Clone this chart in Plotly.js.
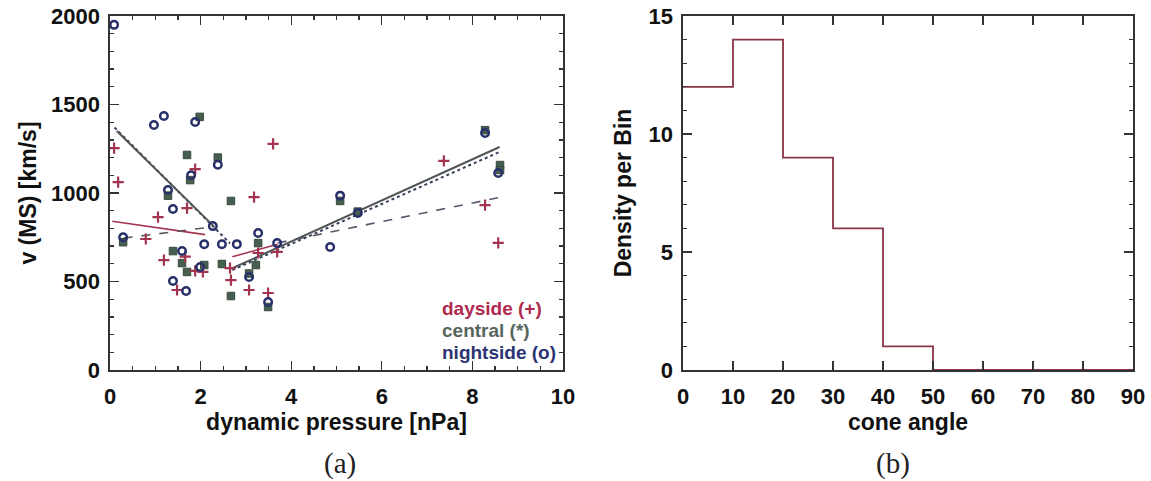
<!DOCTYPE html>
<html>
<head>
<meta charset="utf-8">
<script src="https://cdn.plot.ly/plotly-3.0.1.min.js"></script>
<style>html,body{margin:0;padding:0;background:#fff;}#chart{width:1151px;height:481px;}</style>
</head>
<body>
<div id="chart"></div>
<script>
// ---- panel (a) data: dynamic pressure [nPa] vs v(MS) [km/s]
const daysideP = [0.09,0.18,0.79,1.06,1.19,1.48,1.66,1.70,1.88,1.88,2.05,2.65,2.67,3.07,3.18,3.27,3.49,3.60,3.69,7.37,8.28,8.57];
const daysideV = [1254,1062,740,864,621,452,640,915,1135,560,554,576,508,452,977,661,435,1277,667,1181,932,718];
const centralP = [0.29,1.28,1.39,1.59,1.70,1.70,1.77,1.98,2.08,2.38,2.47,2.67,2.67,3.07,3.22,3.27,3.49,5.08,5.47,8.28,8.61,8.61];
const centralV = [722,985,672,604,554,1215,1073,1430,593,1200,599,955,418,545,593,717,356,955,895,1355,1158,1130];
const nightP = [0.09,0.97,1.19,1.88,1.28,1.39,1.79,2.38,2.27,0.29,2.08,2.47,2.80,1.59,1.99,1.39,1.68,3.27,3.69,4.86,3.07,3.49,5.08,5.47,8.28,8.57];
const nightV = [1950,1384,1435,1401,1017,910,1100,1160,813,750,710,710,711,672,582,503,446,774,717,695,525,384,985,887,1339,1113];

// fit lines (end points)
const fitNightLeftP = [0.10,2.65];   const fitNightLeftV = [1370,715];
const fitCentralLeftP = [0.15,2.30]; const fitCentralLeftV = [1350,810];
const fitDayLeftP = [0.05,2.10];     const fitDayLeftV = [840,765];
const fitDashLeftP = [0.30,2.30];    const fitDashLeftV = [745,810];
const fitDayRightP = [2.70,3.70];    const fitDayRightV = [640,710];
const fitDashRightP = [3.70,8.60];   const fitDashRightV = [718,975];
const fitCentralRightP = [2.70,8.60];const fitCentralRightV = [575,1260];
const fitNightRightP = [2.70,8.60];  const fitNightRightV = [565,1232];

const legendLabels = ['dayside (+)','central (*)','nightside (o)'];

// ---- panel (b) data: cone angle histogram
const binEdges = [0,10,20,30,40,50,60,70,80,90];
const binCounts = [12,14,9,6,1,0,0,0,0];

const RED = '#a3344f', GREEN = '#465f4f', NAVY = '#28306a', GRAY = '#505558';
const FONT = 'Liberation Sans, Arial, Helvetica, sans-serif';

function line(x, y, color, dash, width) {
  return {x: x, y: y, type: 'scatter', mode: 'lines', xaxis: 'x', yaxis: 'y', showlegend: false,
          hoverinfo: 'skip', line: {color: color, dash: dash, width: width}};
}

const traces = [
  line(fitNightLeftP, fitNightLeftV, '#3a3f5a', 'dot', 2),
  line(fitCentralLeftP, fitCentralLeftV, GRAY, 'solid', 2),
  line(fitDayLeftP, fitDayLeftV, RED, 'solid', 1.6),
  line(fitDashLeftP, fitDashLeftV, '#5a5660', 'dash', 1.6),
  line(fitDayRightP, fitDayRightV, RED, 'solid', 1.6),
  line(fitDashRightP, fitDashRightV, '#55576a', 'dash', 1.6),
  line(fitCentralRightP, fitCentralRightV, GRAY, 'solid', 2),
  line(fitNightRightP, fitNightRightV, '#3a3f5a', 'dot', 2),
  {x: centralP, y: centralV, type: 'scatter', mode: 'markers', name: 'central (*)', showlegend: false,
   marker: {symbol: 'square', size: 7.5, color: GREEN, line: {color: '#38493d', width: 1}}},
  {x: daysideP, y: daysideV, type: 'scatter', mode: 'markers', name: 'dayside (+)', showlegend: false,
   marker: {symbol: 'cross-thin', size: 8, color: RED, line: {color: RED, width: 2.2}}},
  {x: nightP, y: nightV, type: 'scatter', mode: 'markers', name: 'nightside (o)', showlegend: false,
   marker: {symbol: 'circle-open', size: 7.5, color: NAVY, line: {color: NAVY, width: 2.5}}},
  {x: binEdges, y: binCounts.concat([binCounts[binCounts.length - 1]]), type: 'scatter', mode: 'lines',
   xaxis: 'x2', yaxis: 'y2', showlegend: false, line: {shape: 'hv', color: '#8a3446', width: 1.8}}
];

const axisCommon = {
  showline: true, linecolor: '#333', linewidth: 1.6, mirror: 'allticks',
  ticks: 'inside', tickcolor: '#333', ticklen: 9, tickwidth: 1.3,
  showgrid: false, zeroline: false, fixedrange: true,
  tickfont: {family: FONT, size: 22, color: '#111', weight: 'bold'}
};
const titleFont = {family: FONT, size: 23, color: '#111', weight: 'bold'};

const layout = {
  width: 1151, height: 481, margin: {l: 0, r: 0, t: 0, b: 0},
  paper_bgcolor: '#fff', plot_bgcolor: '#fff', showlegend: false,
  xaxis: Object.assign({}, axisCommon, {domain: [110/1151, 563/1151], range: [0, 10], dtick: 2,
    minor: {dtick: 0.5, ticks: 'inside', ticklen: 4, tickcolor: '#333'},
    ticklabelstandoff: 6,
    title: {text: 'dynamic pressure [nPa]', font: titleFont, standoff: 4}}),
  yaxis: Object.assign({}, axisCommon, {domain: [111/481, 465/481], range: [0, 2000], dtick: 500,
    minor: {dtick: 100, ticks: 'inside', ticklen: 4, tickcolor: '#333'},
    ticklabelstandoff: 4,
    title: {text: 'v (MS) [km/s]', font: titleFont, standoff: 8}}),
  xaxis2: Object.assign({}, axisCommon, {anchor: 'y2', domain: [683/1151, 1133/1151], range: [0, 90], dtick: 10,
    ticklabelstandoff: 6,
    title: {text: 'cone angle', font: titleFont, standoff: 4}}),
  yaxis2: Object.assign({}, axisCommon, {anchor: 'x2', domain: [111/481, 465/481], range: [0, 15], dtick: 5,
    minor: {dtick: 1, ticks: 'inside', ticklen: 4, tickcolor: '#333'},
    ticklabelstandoff: 4,
    title: {text: 'Density per Bin', font: titleFont, standoff: 10}}),
  annotations: [
    {text: legendLabels[0], xref: 'paper', yref: 'paper', x: 440/1151, y: 1 - 308/481, xanchor: 'left', yanchor: 'middle',
     showarrow: false, font: {family: FONT, size: 19, color: '#b02a50', weight: 'bold'}},
    {text: legendLabels[1], xref: 'paper', yref: 'paper', x: 440/1151, y: 1 - 330/481, xanchor: 'left', yanchor: 'middle',
     showarrow: false, font: {family: FONT, size: 19, color: '#56665c', weight: 'bold'}},
    {text: legendLabels[2], xref: 'paper', yref: 'paper', x: 440/1151, y: 1 - 352/481, xanchor: 'left', yanchor: 'middle',
     showarrow: false, font: {family: FONT, size: 19, color: '#2c3472', weight: 'bold'}},
    {text: '(a)', xref: 'paper', yref: 'paper', x: 340/1151, y: 1 - 463/481, xanchor: 'center', yanchor: 'middle',
     showarrow: false, font: {family: 'Liberation Serif, DejaVu Serif, serif', size: 29, color: '#222'}},
    {text: '(b)', xref: 'paper', yref: 'paper', x: 893/1151, y: 1 - 463/481, xanchor: 'center', yanchor: 'middle',
     showarrow: false, font: {family: 'Liberation Serif, DejaVu Serif, serif', size: 29, color: '#222'}}
  ]
};

Plotly.newPlot('chart', traces, layout, {displayModeBar: false, staticPlot: true});
</script>
</body>
</html>
